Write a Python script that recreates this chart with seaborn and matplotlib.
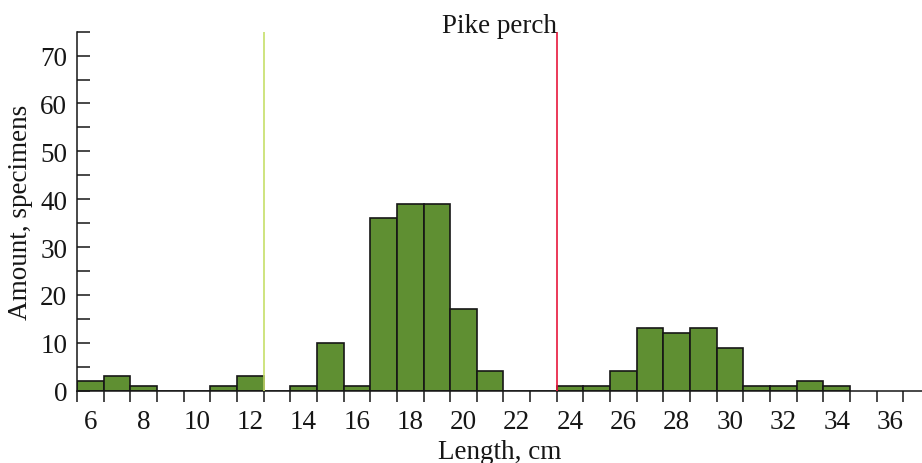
"""Length distribution of pike perch, 1 cm classes, with two reference lines."""
import matplotlib
matplotlib.use('Agg')
import matplotlib.pyplot as plt
from matplotlib.ticker import MultipleLocator, FixedLocator
import pandas as pd
import seaborn as sns

# length classes (cm) and number of specimens in each
lengths = list(range(6, 37))
counts = [2, 3, 1, 0, 0, 1, 3, 0, 1, 10, 1, 36, 39, 39, 17, 4,
          0, 0, 1, 1, 4, 13, 12, 13, 9, 1, 1, 2, 1, 0, 0]
# reference lengths marked by vertical lines
marks = [12.5, 23.5]
mark_colors = ['#c6df6a', '#e8173c']

df = pd.DataFrame({'length': lengths, 'n': counts})
df = df[df['n'] > 0]

INK = '#161616'
sns.set_style('ticks')
plt.rcParams['font.family'] = ['Liberation Serif', 'DejaVu Serif']
plt.rcParams.update({'axes.linewidth': 1.1, 'axes.edgecolor': INK,
                     'text.color': INK, 'axes.labelcolor': INK,
                     'xtick.color': INK, 'ytick.color': INK})

fig = plt.figure(figsize=(9.22, 4.64), dpi=100)
ax = fig.add_axes([0.0835, 0.156, 0.9165, 0.7735])

sns.histplot(data=df, x='length', weights='n', discrete=True, ax=ax,
             color='#5f8f32', edgecolor=INK, linewidth=1.2, alpha=1)

for x, c in zip(marks, mark_colors):
    ax.axvline(x, color=c, linewidth=1.2, zorder=3)

ax.set_xlim(5.5, 37.2)
ax.set_ylim(0, 75)
sns.despine(ax=ax)

# x: labels on even classes, tick marks on class boundaries
ax.xaxis.set_major_locator(FixedLocator(list(range(6, 37, 2))))
ax.xaxis.set_minor_locator(FixedLocator([v + 0.5 for v in range(5, 37)]))
ax.tick_params(axis='x', which='major', length=0, pad=13, labelsize=19.5)
ax.tick_params(axis='x', which='minor', direction='out', length=8, width=1.1)

ax.yaxis.set_major_locator(MultipleLocator(10))
ax.yaxis.set_minor_locator(MultipleLocator(5))
ax.tick_params(axis='y', which='both', direction='in', length=9, width=1.1,
               labelsize=19.5, pad=7)

ax.set_xlabel('Length, cm', fontsize=19.5, labelpad=4)
ax.set_ylabel('Amount, specimens', fontsize=19.5, labelpad=5)
ax.set_title('Pike perch', fontsize=19.5, y=1.0, pad=0)

plt.savefig('out.png', dpi=100)
plt.close(fig)
